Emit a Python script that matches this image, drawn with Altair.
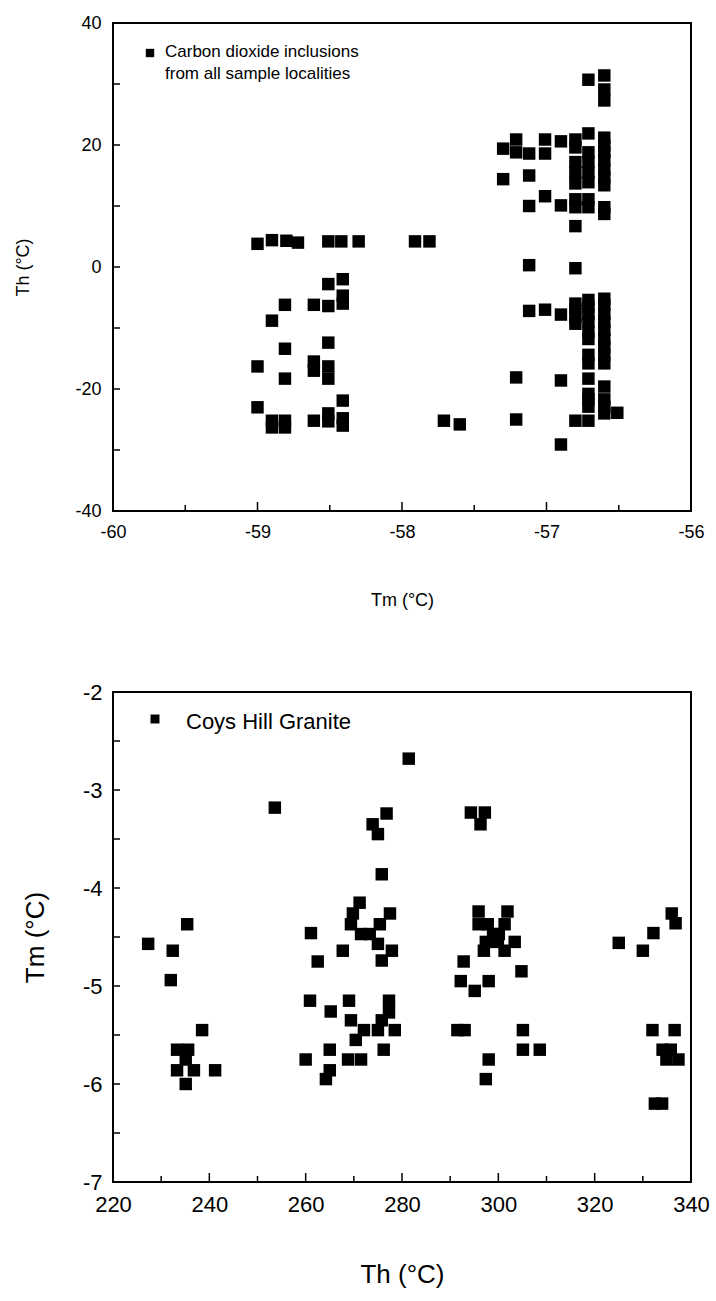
import altair as alt
import pandas as pd

FONT = "Liberation Sans"

# ---------------- top panel: CO2 inclusions (Tm, Th) ----------------
top_tm = [
    -59.0, -58.9, -58.8, -58.72, -58.51, -58.42, -58.30, -57.91, -57.81,
    -58.51, -58.41, -58.41, -58.41,
    -58.81, -58.61, -58.51, -58.9, -58.51, -58.81, -59.0,
    -58.61, -58.61, -58.51, -58.51, -58.81, -59.0, -58.41,
    -58.9, -58.9, -58.81, -58.81, -58.61, -58.51, -58.51, -58.41, -58.41,
    -57.71, -57.6,
    -56.71, -56.6, -56.6, -56.6,
    -57.30, -57.21, -57.21, -57.12, -57.01, -57.01, -56.90,
    -56.80, -56.80, -56.71, -56.6, -56.6,
    -56.80, -56.80, -56.80,
    -56.71, -56.71, -56.71, -56.71,
    -56.6, -56.6, -56.6, -56.6, -56.6,
    -57.30, -57.12, -57.01, -57.12, -56.90,
    -56.80, -56.80, -56.71, -56.71, -56.6, -56.6,
    -56.80, -57.12, -56.80,
    -57.12, -57.01, -56.90,
    -56.80, -56.80, -56.80, -56.80,
    -56.71, -56.71, -56.71, -56.71, -56.71, -56.71,
    -56.6, -56.6, -56.6, -56.6, -56.6, -56.6, -56.6, -56.6, -56.6,
    -56.71, -56.71,
    -57.21, -56.90, -56.71, -56.6,
    -56.71, -56.71, -56.71,
    -56.6, -56.6, -56.6,
    -56.51,
    -57.21, -56.80, -56.71,
    -56.90,
]
top_th = [
    3.8, 4.4, 4.3, 4.0, 4.2, 4.2, 4.2, 4.2, 4.2,
    -2.8, -2.0, -4.7, -6.0,
    -6.2, -6.2, -6.4, -8.8, -12.4, -13.4, -16.3,
    -15.5, -17.0, -16.3, -18.3, -18.3, -23.0, -21.9,
    -25.2, -26.3, -25.2, -26.3, -25.2, -24.0, -25.3, -24.8, -26.0,
    -25.2, -25.8,
    30.7, 31.4, 29.1, 27.3,
    19.4, 20.9, 18.8, 18.6, 20.9, 18.6, 20.6,
    20.9, 19.6, 21.9, 21.2, 19.9,
    17.2, 15.5, 13.7,
    18.8, 17.2, 15.5, 13.9,
    18.8, 17.5, 16.0, 14.7, 13.4,
    14.4, 15.0, 11.6, 10.0, 10.1,
    11.1, 9.8, 11.1, 9.8, 9.8, 8.7,
    6.7, 0.3, -0.2,
    -7.2, -7.0, -7.8,
    -6.0, -7.0, -8.2, -9.3,
    -5.4, -6.5, -7.7, -9.0, -10.6, -11.8,
    -5.2, -6.2, -7.7, -9.0, -10.3, -11.8, -13.1, -14.4, -15.8,
    -14.4, -15.8,
    -18.1, -18.6, -18.3, -19.6,
    -20.8, -21.7, -22.9,
    -21.7, -22.9, -24.0,
    -23.9,
    -25.0, -25.2, -25.2,
    -29.1,
]

# ---------------- bottom panel: Coys Hill Granite (Th, Tm) ----------------
bot_th = [
    281.4, 253.6, 276.8, 273.9, 275.0, 294.3, 297.2, 296.3, 275.8,
    235.4, 227.3, 232.4, 232.0,
    261.1, 262.5, 267.7,
    271.2, 269.8, 269.4, 271.5, 273.3, 275.4, 277.5, 275.0, 277.9, 275.8,
    295.9, 301.9, 295.9, 297.8, 301.3, 298.9, 300.1, 297.4, 299.9, 303.4,
    297.0, 301.3, 292.8, 304.8, 292.2, 298.0, 295.1,
    325.0, 330.0, 332.2, 336.0, 336.8,
    260.9, 269.0, 265.2, 277.3, 277.3, 275.8, 269.4,
    238.5, 272.1, 275.0, 278.5, 291.5, 293.0, 305.1, 332.0, 336.6,
    270.4,
    233.3, 235.6, 265.0, 276.2, 305.1, 308.6, 334.1, 335.8,
    235.1, 260.0, 268.8, 271.5, 298.0, 334.9, 337.4,
    233.3, 236.8, 241.2, 265.0,
    264.2, 297.4,
    235.1, 332.5, 334.0,
]
bot_tm = [
    -2.68, -3.18, -3.24, -3.35, -3.45, -3.23, -3.23, -3.35, -3.86,
    -4.37, -4.57, -4.64, -4.94,
    -4.46, -4.75, -4.64,
    -4.15, -4.26, -4.37, -4.47, -4.47, -4.37, -4.26, -4.57, -4.64, -4.74,
    -4.24, -4.24, -4.37, -4.37, -4.37, -4.47, -4.47, -4.55, -4.55, -4.55,
    -4.64, -4.64, -4.75, -4.85, -4.95, -4.95, -5.05,
    -4.56, -4.64, -4.46, -4.26, -4.36,
    -5.15, -5.15, -5.26, -5.15, -5.27, -5.35, -5.35,
    -5.45, -5.45, -5.45, -5.45, -5.45, -5.45, -5.45, -5.45, -5.45,
    -5.55,
    -5.65, -5.65, -5.65, -5.65, -5.65, -5.65, -5.65, -5.65,
    -5.75, -5.75, -5.75, -5.75, -5.75, -5.75, -5.75,
    -5.86, -5.86, -5.86, -5.86,
    -5.95, -5.95,
    -6.0, -6.2, -6.2,
]

# axis tick values / labels
top_x_labels = [-60, -59, -58, -57, -56]
top_y_labels = [-40, -20, 0, 20, 40]
top_x_major_ticks = [-59, -58, -57]
top_x_minor_ticks = [-59.5, -58.5, -57.5, -56.5]
top_y_ticks = [-30, -20, -10, 0, 10, 20, 30]

bot_x_labels = [220, 240, 260, 280, 300, 320, 340]
bot_y_labels = [-7, -6, -5, -4, -3, -2]
bot_x_major_ticks = [240, 260, 280, 300, 320]
bot_x_minor_ticks = [230, 250, 270, 290, 310, 330]
bot_y_ticks = [-6.5, -6, -5.5, -5, -4.5, -4, -3.5, -3, -2.5]

top_legend = "Carbon dioxide inclusions\nfrom all sample localities"
bot_legend = "Coys Hill Granite"

W1, H1 = 578, 488
W2, H2 = 578, 490

LBL = "'' + datum.value"


def ax(values, title, lsize, tsize, lpad, tpad):
    return alt.Axis(values=values, ticks=False, domain=False, grid=False,
                    labelFontSize=lsize, labelFont=FONT, labelColor="black",
                    labelPadding=lpad, labelExpr=LBL, labelFlush=False,
                    labelOverlap=False,
                    title=title, titleFont=FONT, titleFontSize=tsize,
                    titleFontWeight="normal", titleColor="black",
                    titlePadding=tpad)


# ---------- top chart ----------
sx1 = alt.Scale(domain=[-60, -56], nice=False, zero=False)
sy1 = alt.Scale(domain=[-40, 40], nice=False, zero=False)
ax_x1 = ax(top_x_labels, "Tm (°C)", 18, 18, 12, 50)
ax_y1 = ax(top_y_labels, "Th (°C)", 18, 18, 12, 42)
df_top = pd.DataFrame({"Tm": top_tm, "Th": top_th})

top_pts = alt.Chart(df_top).mark_square(size=155, color="black", opacity=1).encode(
    x=alt.X("Tm:Q", scale=sx1, axis=ax_x1),
    y=alt.Y("Th:Q", scale=sy1, axis=ax_y1),
)
top_yt = alt.Chart(pd.DataFrame({"Th": top_y_ticks})).mark_rule(color="black", strokeWidth=1.5).encode(
    y=alt.Y("Th:Q", scale=sy1, axis=ax_y1), x=alt.value(0), x2=alt.value(7))
top_xt_major = alt.Chart(pd.DataFrame({"Tm": top_x_major_ticks})).mark_rule(color="black", strokeWidth=1.5).encode(
    x=alt.X("Tm:Q", scale=sx1, axis=ax_x1), y=alt.value(H1), y2=alt.value(H1 - 9))
top_xt_minor = alt.Chart(pd.DataFrame({"Tm": top_x_minor_ticks})).mark_rule(color="black", strokeWidth=1.5).encode(
    x=alt.X("Tm:Q", scale=sx1, axis=ax_x1), y=alt.value(H1), y2=alt.value(H1 - 6))
top_leg_sq = alt.Chart(pd.DataFrame({"k": [1]})).mark_square(size=70, color="black", opacity=1).encode(
    x=alt.value(37), y=alt.value(30))
top_leg_tx = alt.Chart(pd.DataFrame({"t": [top_legend]})).mark_text(
    align="left", baseline="top", font=FONT, fontSize=17, lineBreak="\n", lineHeight=22, color="black"
).encode(text="t:N", x=alt.value(52), y=alt.value(21))

top = alt.layer(top_pts, top_yt, top_xt_major, top_xt_minor, top_leg_sq, top_leg_tx).properties(width=W1, height=H1)

# ---------- bottom chart ----------
sx2 = alt.Scale(domain=[220, 340], nice=False, zero=False)
sy2 = alt.Scale(domain=[-7, -2], nice=False, zero=False)
ax_x2 = ax(bot_x_labels, "Th (°C)", 22, 26, 12, 46)
ax_y2 = ax(bot_y_labels, "Tm (°C)", 22, 26, 11, 34)
df_bot = pd.DataFrame({"Th": bot_th, "Tm": bot_tm})

bot_pts = alt.Chart(df_bot).mark_square(size=155, color="black", opacity=1).encode(
    x=alt.X("Th:Q", scale=sx2, axis=ax_x2),
    y=alt.Y("Tm:Q", scale=sy2, axis=ax_y2),
)
bot_yt = alt.Chart(pd.DataFrame({"Tm": bot_y_ticks})).mark_rule(color="black", strokeWidth=1.5).encode(
    y=alt.Y("Tm:Q", scale=sy2, axis=ax_y2), x=alt.value(0), x2=alt.value(7))
bot_xt_major = alt.Chart(pd.DataFrame({"Th": bot_x_major_ticks})).mark_rule(color="black", strokeWidth=1.5).encode(
    x=alt.X("Th:Q", scale=sx2, axis=ax_x2), y=alt.value(H2), y2=alt.value(H2 - 9))
bot_xt_minor = alt.Chart(pd.DataFrame({"Th": bot_x_minor_ticks})).mark_rule(color="black", strokeWidth=1.5).encode(
    x=alt.X("Th:Q", scale=sx2, axis=ax_x2), y=alt.value(H2), y2=alt.value(H2 - 6))
bot_leg_sq = alt.Chart(pd.DataFrame({"k": [1]})).mark_square(size=80, color="black", opacity=1).encode(
    x=alt.value(42), y=alt.value(27))
bot_leg_tx = alt.Chart(pd.DataFrame({"t": [bot_legend]})).mark_text(
    align="left", baseline="middle", font=FONT, fontSize=22, color="black"
).encode(text="t:N", x=alt.value(73), y=alt.value(30))

bottom = alt.layer(bot_pts, bot_yt, bot_xt_major, bot_xt_minor, bot_leg_sq, bot_leg_tx).properties(width=W2, height=H2)

chart = alt.concat(top, bottom, columns=1, spacing=70, align="none").properties(
    padding={"left": 13, "top": 13, "right": 0, "bottom": 0},
    background="white",
).configure_view(stroke="black", strokeWidth=2)

chart.save("out.html", embed_options={"renderer": "svg", "actions": False})
